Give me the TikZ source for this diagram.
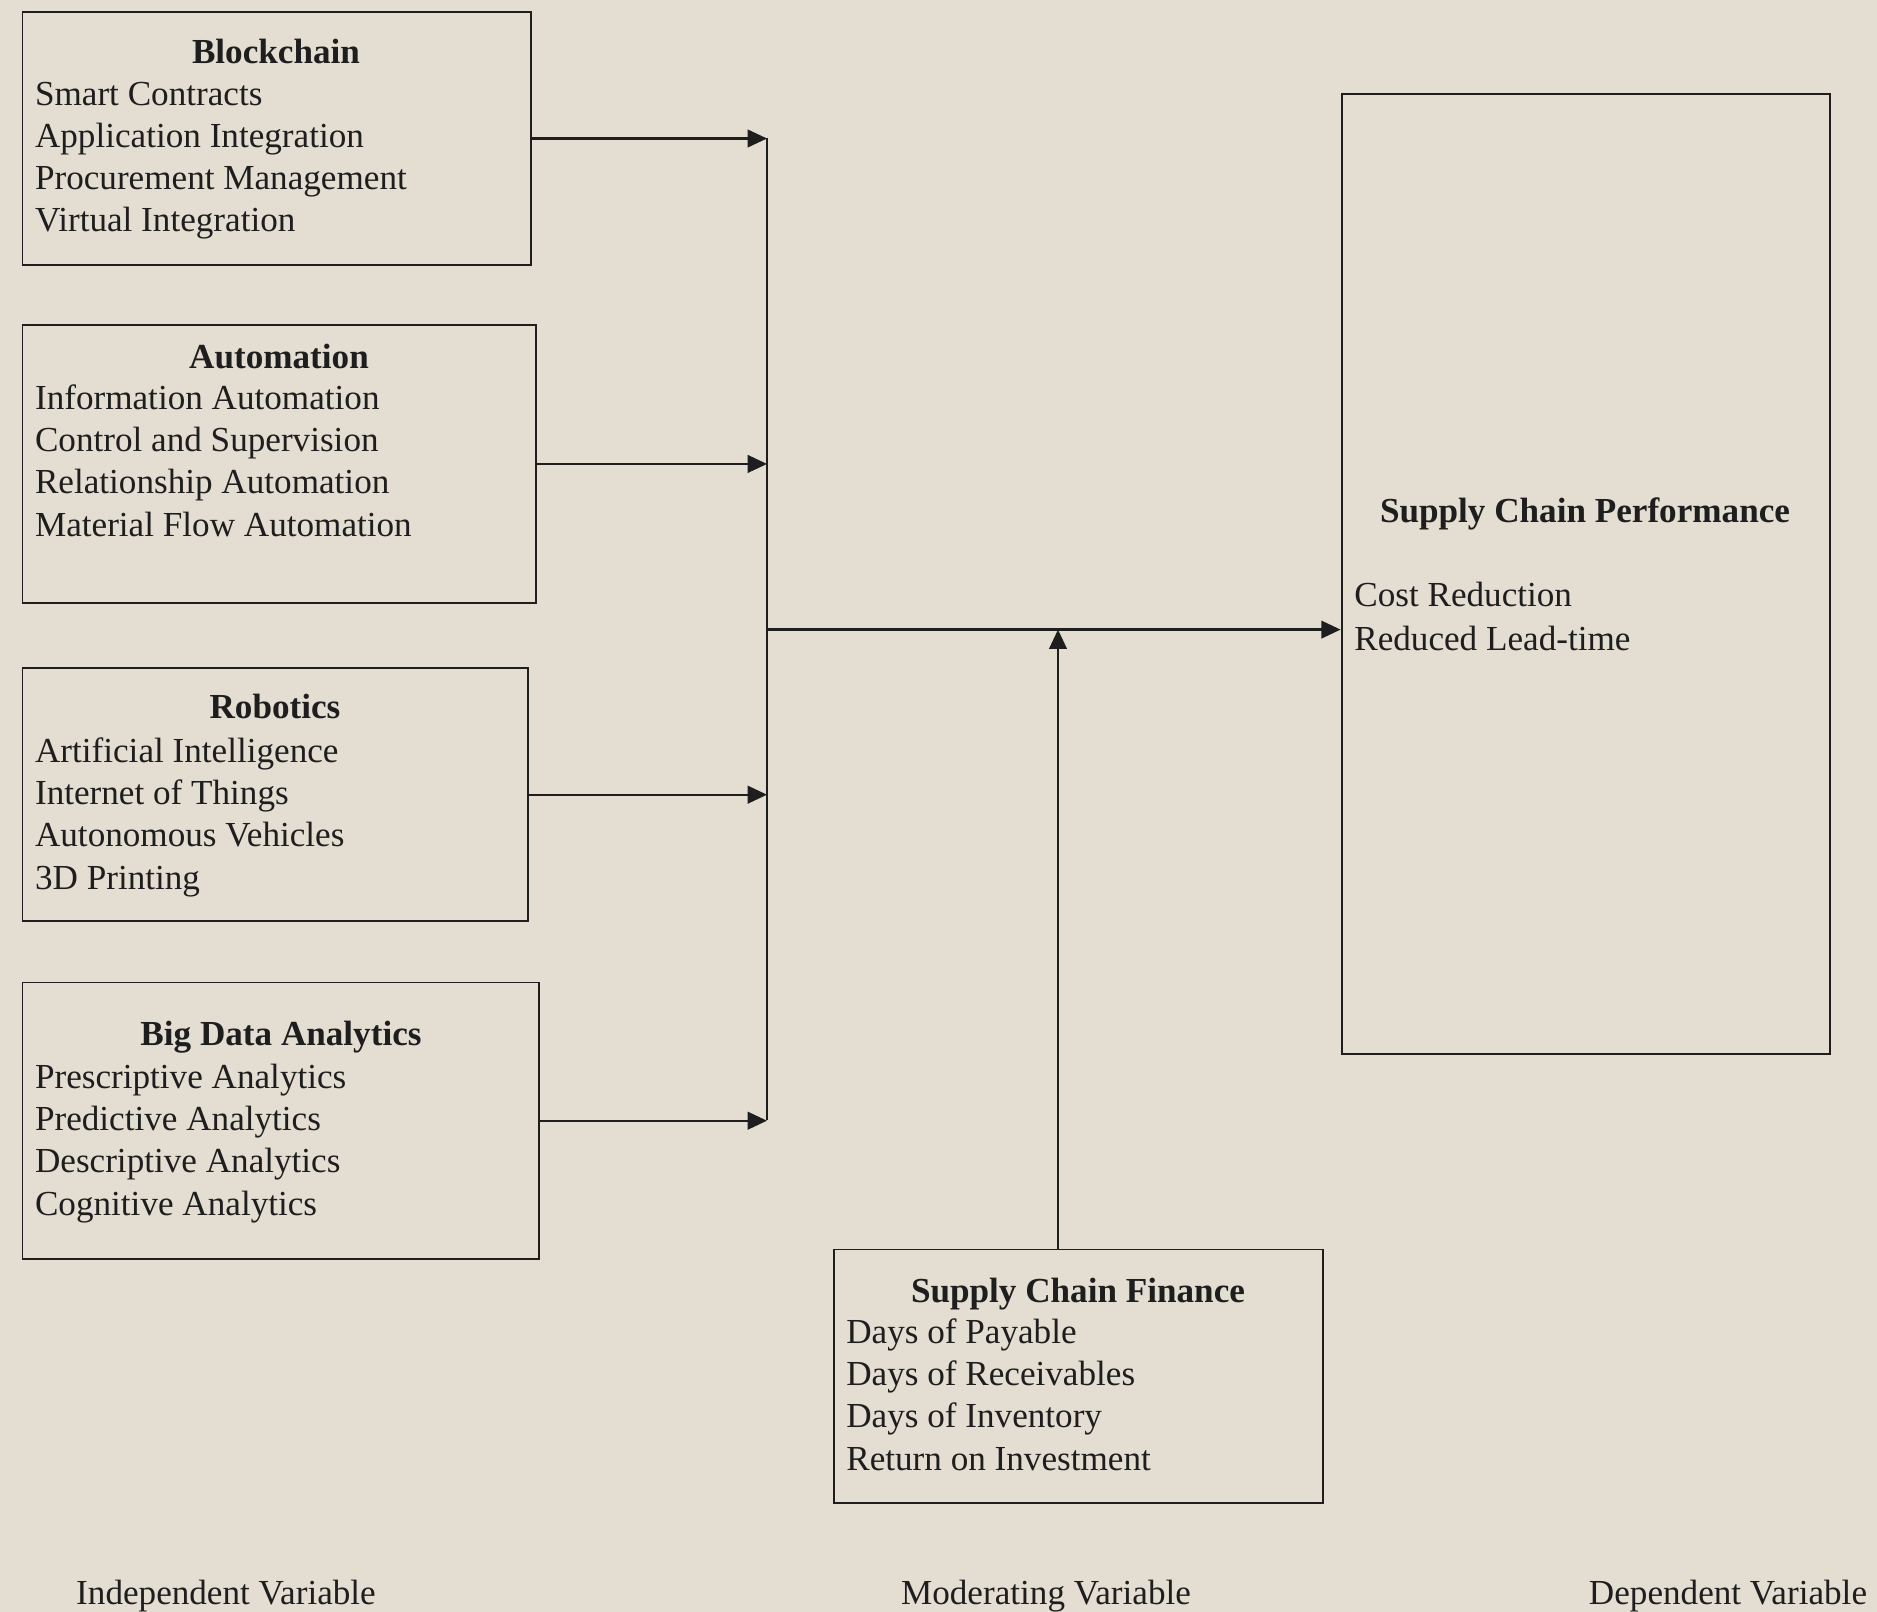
\documentclass[tikz,border=0pt]{standalone}
\usepackage{fontspec}
\setmainfont{Liberation Serif}
\usetikzlibrary{arrows.meta,positioning,calc}
\definecolor{paper}{HTML}{E3DDD2}
\definecolor{ink}{HTML}{1E1E1E}

\begin{document}
\begin{tikzpicture}[
    x=0.02cm, y=-0.02cm,
    every node/.style={font=\fontsize{20}{23.96}\selectfont, text=ink},
    box/.style={draw=ink, line width=1.1pt, anchor=north west, inner sep=0pt},
    head/.style={font=\fontsize{20}{23.96}\selectfont\bfseries, anchor=base, inner sep=0pt},
    items/.style={align=left, anchor=base west, inner sep=0pt},
    caption/.style={anchor=base, inner sep=0pt},
    arrow/.style={-{Triangle[length=11pt,width=10pt]}, line width=1.3pt, draw=ink}
]
\fill[paper] (0,0) rectangle (1877,1612);
\useasboundingbox (0,0) rectangle (1877,1612);

% independent variables (item lists sit on their last baseline)
\node[box, minimum width=10.17cm, minimum height=5.07cm] (bc) at (21.5,10.8) {};
\node[head] (bctitle) at (276,64) {Blockchain};
\node[items] (bclist) at (34.7,232) {Smart Contracts\\Application Integration\\Procurement Management\\Virtual Integration};

\node[box, minimum width=10.27cm, minimum height=5.56cm] (auto) at (21.5,324) {};
\node[head] (autotitle) at (279,368) {Automation};
\node[items] (autolist) at (34.7,536) {Information Automation\\Control and Supervision\\Relationship Automation\\Material Flow Automation};

\node[box, minimum width=10.11cm, minimum height=5.07cm] (robo) at (21.5,667) {};
\node[head] (robotitle) at (275,718) {Robotics};
\node[items] (robolist) at (34.7,889) {Artificial Intelligence\\Internet of Things\\Autonomous Vehicles\\3D Printing};

\node[box, minimum width=10.34cm, minimum height=5.53cm] (bda) at (21.5,981.5) {};
\node[head] (bdatitle) at (281,1045) {Big Data Analytics};
\node[items] (bdalist) at (34.7,1215) {Prescriptive Analytics\\Predictive Analytics\\Descriptive Analytics\\Cognitive Analytics};

% moderating variable
\node[box, minimum width=9.79cm, minimum height=5.07cm] (scf) at (833,1248.5) {};
\node[head] (scftitle) at (1078,1302) {Supply Chain Finance};
\node[items] (scflist) at (846,1470) {Days of Payable\\Days of Receivables\\Days of Inventory\\Return on Investment};

% dependent variable
\node[box, minimum width=9.77cm, minimum height=19.19cm] (scp) at (1340.6,93.4) {};
\node[head] (scptitle) at (1585,522) {Supply Chain Performance};
\node[items, font=\fontsize{20}{25}\selectfont] (scplist) at (1354,650) {Cost Reduction\\Reduced Lead-time};

% captions
\node[caption] (indep) at (226,1604) {Independent Variable};
\node[caption] (moder) at (1046,1604) {Moderating Variable};
\node[caption] (dep) at (1728,1604) {Dependent Variable};

% connectors
\coordinate (spinetop) at (767,137.7);
\coordinate (spinebot) at (767,1120);
\coordinate (hub) at (767,629.6);
\coordinate (mod) at (1058,629.6);
\draw[line width=1.3pt, ink] (spinetop) -- (spinebot);
\draw[arrow] (bc.east) -- (bc.east -| spinetop);
\draw[arrow] (auto.east) -- (auto.east -| spinetop);
\draw[arrow] (robo.east) -- (robo.east -| spinetop);
\draw[arrow] (bda.east) -- (bda.east -| spinetop);
\draw[arrow] (hub) -- (hub -| scp.west);
\draw[arrow] (scf.north -| mod) -- (mod);
\end{tikzpicture}
\end{document}
